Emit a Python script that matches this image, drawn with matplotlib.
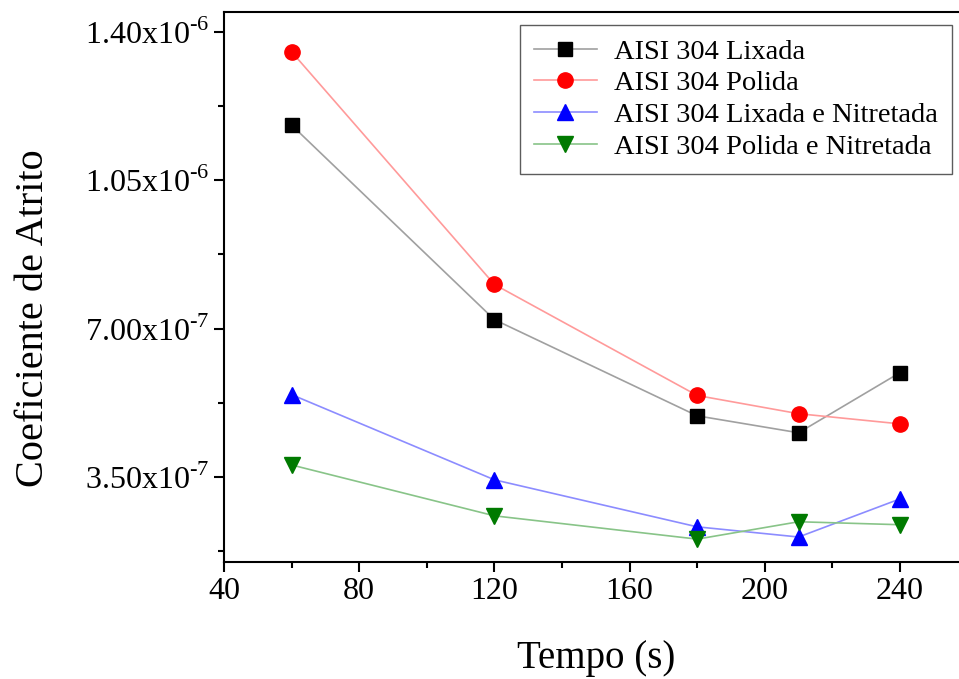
import numpy as np
import matplotlib
matplotlib.use('Agg')
import matplotlib.pyplot as plt
from matplotlib.ticker import FuncFormatter, MultipleLocator

plt.rcParams['font.family'] = ['Liberation Serif', 'DejaVu Serif']
plt.rcParams['mathtext.fontset'] = 'custom'
plt.rcParams['mathtext.rm'] = 'Liberation Serif'

tempo = [60, 120, 180, 210, 240]
lixada = [1.18e-6, 0.721e-6, 0.494e-6, 0.454e-6, 0.596e-6]
polida = [1.353e-6, 0.804e-6, 0.542e-6, 0.499e-6, 0.475e-6]
lixada_nit = [0.544e-6, 0.343e-6, 0.232e-6, 0.208e-6, 0.298e-6]
polida_nit = [0.378e-6, 0.258e-6, 0.203e-6, 0.244e-6, 0.237e-6]

nomes = ['AISI 304 Lixada', 'AISI 304 Polida',
         'AISI 304 Lixada e Nitretada', 'AISI 304 Polida e Nitretada']

fig = plt.figure(figsize=(9.59, 6.79), dpi=100)
ax = fig.add_axes([0.2336, 0.1723, 0.7754, 0.81])

ax.plot(tempo, lixada, '-s', color='#a0a0a0', mfc='black', mec='black', ms=10, lw=1.2, label=nomes[0])
ax.plot(tempo, polida, '-o', color='#ff9a9a', mfc='red', mec='red', ms=11, lw=1.2, label=nomes[1])
ax.plot(tempo, lixada_nit, '-^', color='#8c8cff', mfc='blue', mec='blue', ms=12, lw=1.2, label=nomes[2])
ax.plot(tempo, polida_nit, '-v', color='#88c488', mfc='#007a00', mec='#007a00', ms=12, lw=1.2, label=nomes[3])

ax.set_xlim(40, 260)
ax.set_ylim(1.49e-7, 1.447e-6)
ax.set_xticks([40, 80, 120, 160, 200, 240])
ax.xaxis.set_minor_locator(MultipleLocator(20))
ax.set_yticks([3.5e-7, 7.0e-7, 1.05e-6, 1.40e-6])
ax.yaxis.set_minor_locator(MultipleLocator(1.75e-7))

def fmt(v, pos):
    e = int(np.floor(np.log10(v)))
    m = v / 10**e
    return r'%.2fx10$^{\text{-%d}}$' % (m, -e)

ax.yaxis.set_major_formatter(FuncFormatter(fmt))
ax.tick_params(which='major', direction='out', length=7, width=1.5, labelsize=23)
ax.tick_params(which='minor', direction='out', length=4, width=1.5)
for s in ax.spines.values():
    s.set_linewidth(1.5)

ax.set_xlabel('Tempo (s)', fontsize=28, labelpad=25)
ax.set_ylabel('Coeficiente de Atrito', fontsize=29)
ax.yaxis.set_label_coords(-0.231, 0.4436)

leg = ax.legend(loc='upper right', bbox_to_anchor=(0.998, 1.003), fontsize=20.5,
                frameon=True, fancybox=False, edgecolor='#333333',
                handlelength=2.2, labelspacing=0.2, borderpad=0.5, handletextpad=0.6)
leg.get_frame().set_linewidth(1.0)

fig.savefig('out.png', dpi=100)
